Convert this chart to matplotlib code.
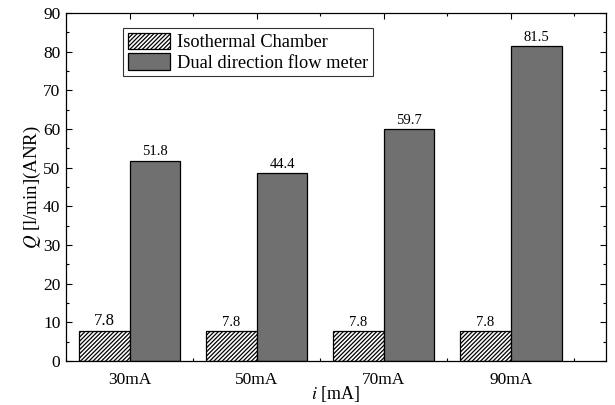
import numpy as np
import matplotlib
matplotlib.use('Agg')
import matplotlib.pyplot as plt
from matplotlib.ticker import MultipleLocator

plt.rcParams['font.family'] = ['Liberation Serif', 'DejaVu Serif']
plt.rcParams['mathtext.fontset'] = 'stix'
plt.rcParams['hatch.linewidth'] = 0.9

# ---- data ----
currents = ['30mA', '50mA', '70mA', '90mA']
iso_vals = [7.8, 7.8, 7.8, 7.8]
flow_vals = [51.8, 48.5, 59.9, 81.5]          # bar heights as drawn
iso_text = ['7.8', '7.8', '7.8', '7.8']
flow_text = ['51.8', '44.4', '59.7', '81.5']  # printed labels

x = np.arange(len(currents))
w = 0.4

fig = plt.figure(figsize=(6.15, 4.05), dpi=100)
ax = fig.add_axes([66/615, 1 - 361/405, 540/615, 348/405])

ax.bar(x - w/2, iso_vals, w, color='white', edgecolor='black', hatch='////////',
       linewidth=0.9, label='Isothermal Chamber')
ax.bar(x + w/2, flow_vals, w, color='#707070', edgecolor='black',
       linewidth=0.9, label='Dual direction flow meter')

for i in range(len(x)):
    ax.text(x[i] - w/2, iso_vals[i] + 0.6, iso_text[i], ha='center', va='bottom',
            fontsize=12 if i == 0 else 10.5)
    ax.text(x[i] + w/2, flow_vals[i] + 0.6, flow_text[i], ha='center', va='bottom',
            fontsize=10.5)

ax.set_xlim(-0.5, 3.75)
ax.set_ylim(0, 90)
ax.set_xticks(x)
ax.set_xticklabels(currents)
ax.xaxis.set_minor_locator(MultipleLocator(0.5))
ax.yaxis.set_major_locator(MultipleLocator(10))
ax.yaxis.set_minor_locator(MultipleLocator(5))
ax.tick_params(which='both', direction='in', top=True, right=True, labelsize=12.5, width=0.8)
ax.tick_params(which='major', length=4)
ax.tick_params(which='minor', length=2.5)
ax.tick_params(axis='x', which='major', pad=8)
ax.tick_params(axis='y', which='major', pad=4)
for s in ax.spines.values():
    s.set_linewidth(0.9)

ax.set_xlabel(r'$i$ [mA]', fontsize=13, labelpad=-3)
ax.set_ylabel(r'$Q$ [l/min](ANR)', fontsize=13.5, labelpad=0)

leg = ax.legend(loc='upper left', bbox_to_anchor=(0.106, 0.957), fontsize=13.2,
                frameon=True, fancybox=False, edgecolor='black', handlelength=2.3,
                handleheight=1.0, borderpad=0.25, labelspacing=0.12, handletextpad=0.4,
                borderaxespad=0)
leg.get_frame().set_linewidth(0.8)

fig.savefig('out.png', dpi=100)
